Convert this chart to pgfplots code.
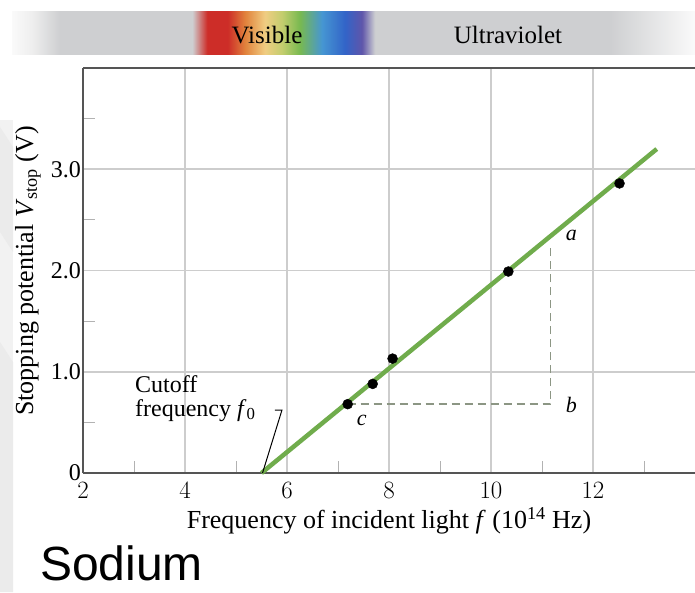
\documentclass[border=0pt]{standalone}
\usepackage{fontspec}
\setmainfont{Liberation Serif}
\newfontfamily\arial{Liberation Sans}
\usepackage{pgfplots}
\pgfplotsset{compat=1.18}

\definecolor{lgreen}{RGB}{112,172,76}
\definecolor{gridgray}{RGB}{205,205,205}
\definecolor{framegray}{RGB}{85,85,85}
\definecolor{dashgray}{RGB}{140,150,132}
\definecolor{bandgray}{RGB}{206,207,209}
\definecolor{bandlight}{RGB}{238,238,238}
\definecolor{bandwhite}{RGB}{250,250,250}
\definecolor{specred}{RGB}{205,45,40}
\definecolor{specorange}{RGB}{225,130,60}
\definecolor{specyellow}{RGB}{240,205,130}
\definecolor{specyg}{RGB}{195,205,110}
\definecolor{specgreen}{RGB}{120,185,80}
\definecolor{speccyan}{RGB}{70,150,210}
\definecolor{specblue}{RGB}{50,100,200}
\definecolor{specviolet}{RGB}{95,85,170}

% band from x=12 to 695, mapped onto 25bp..75bp
\pgfdeclarehorizontalshading{spectrum}{100bp}{
  color(0bp)=(bandwhite); color(25bp)=(bandwhite); color(26.5bp)=(bandlight);
  color(28.5bp)=(bandgray); color(38.2bp)=(bandgray); color(39.3bp)=(specred);
  color(40.8bp)=(specred); color(42.06bp)=(specorange); color(43.52bp)=(specyellow);
  color(44.77bp)=(specyg); color(46.08bp)=(specgreen); color(47.69bp)=(speccyan);
  color(49.38bp)=(specblue); color(50.62bp)=(specviolet); color(51.57bp)=(bandgray);
  color(68.78bp)=(bandgray); color(75bp)=(bandwhite); color(100bp)=(bandwhite)}

\begin{document}
\begin{tikzpicture}[x=1pt,y=1pt]
\useasboundingbox (0,0) rectangle (695,592);
\fill[white] (0,0) rectangle (695,592);

% slide decoration at left
\fill[gray!10] (0,0) rectangle (13,472);
\fill[gray!16] (0,465) -- (13,445) -- (13,340) -- (0,360) -- cycle;
\fill[gray!16] (0,250) -- (13,230) -- (13,0) -- (0,0) -- cycle;

% spectrum band
\shade[shading=spectrum] (12,537) rectangle (695,580);
\node[font=\fontsize{25}{25}\selectfont, anchor=base] at (267,548) {Visible};
\node[font=\fontsize{25}{25}\selectfont, anchor=base] at (508,548) {Ultraviolet};

\begin{axis}[
  at={(83pt,119pt)}, anchor=south west,
  scale only axis, width=612pt, height=405pt,
  xmin=2, xmax=14, ymin=0, ymax=4,
  axis x line*=bottom, axis y line*=left,
  axis line style={framegray, line width=2pt},
  xtick={2,4,6,8,10,12}, ytick={0,1,2,3},
  yticklabels={0,1.0,2.0,3.0},
  minor xtick={3,5,7,9,11,13}, minor ytick={0.5,1.5,2.5,3.5},
  major tick length=0pt, minor tick length=12pt, tick align=inside,
  minor tick style={gray!60, line width=1pt},
  grid=major, major grid style={gridgray, line width=1.5pt},
  tick label style={font=\fontsize{24}{24}\selectfont},
  xticklabel style={inner sep=0pt, yshift=-9pt},
  yticklabel style={inner sep=0pt, xshift=-2pt},
  clip=false,
]
  % top frame line
  \draw[framegray, line width=1.5pt] (axis cs:2,4) -- (axis cs:14,4);
  % construction triangle
  \addplot[dashgray, line width=1.4pt, dash pattern=on 8pt off 5pt] coordinates {(7.19,0.68) (11.17,0.68) (11.17,2.27)};
  % fitted line
  \addplot[lgreen, line width=4.5pt] coordinates {(5.5,0) (13.25,3.20)};
  % measurements
  \addplot[only marks, mark=*, mark size=5pt, black] coordinates {
    (7.19,0.68) (7.68,0.88) (8.07,1.13) (10.34,1.99) (12.52,2.86)};
  % cutoff leader
  \draw[black, line width=1pt] (axis cs:5.76,0.62) -- (axis cs:5.90,0.62) -- (axis cs:5.52,0);
  \node[font=\fontsize{22}{22}\selectfont\itshape, anchor=base west] at (axis cs:11.4,2.3) {a};
  \node[font=\fontsize{22}{22}\selectfont\itshape, anchor=base west] at (axis cs:11.4,0.6) {b};
  \node[font=\fontsize{22}{22}\selectfont\itshape, anchor=base west] at (axis cs:7.3,0.47) {c};
\end{axis}

\node[font=\fontsize{24}{24}\selectfont, anchor=base west, inner sep=0pt] at (135,200) {Cutoff};
\node[font=\fontsize{24}{24}\selectfont, anchor=base west, inner sep=0pt] at (135,176) {frequency \textit{f}\textsubscript{0}};

\node[rotate=90, font=\fontsize{26}{26}\selectfont] at (28,321) {Stopping potential \textit{V}\textsubscript{stop} (V)};
\node[font=\fontsize{26}{26}\selectfont] at (389,71) {Frequency of incident light \textit{f} (10\textsuperscript{14} Hz)};

\node[font=\arial\fontsize{48}{48}\selectfont, anchor=base west, inner sep=0pt] at (40,12) {Sodium};
\end{tikzpicture}
\end{document}
